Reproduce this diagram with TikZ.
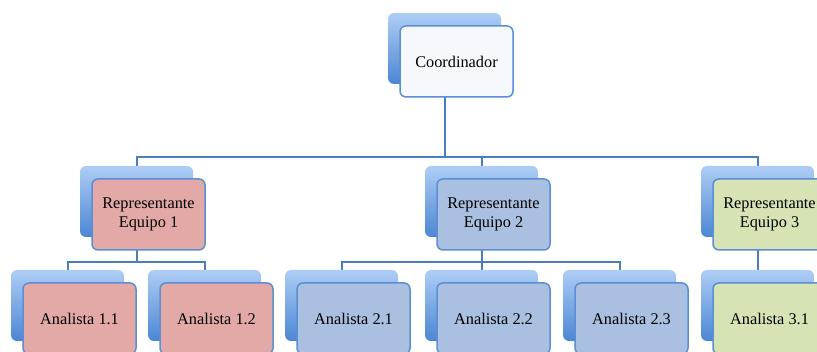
\documentclass[tikz,border=0pt]{standalone}
\usepackage{fontspec}
\setmainfont{Liberation Serif}
\usetikzlibrary{backgrounds}
\definecolor{linkblue}{HTML}{4A7EBB}
\definecolor{edgeblue}{HTML}{5B8ED4}
\definecolor{backtop}{HTML}{AECDF5}
\definecolor{backbot}{HTML}{4B86D4}
\definecolor{headfill}{HTML}{F5F8FC}
\definecolor{teamone}{HTML}{E2A9A7}
\definecolor{teamtwo}{HTML}{A9C0E0}
\definecolor{teamthree}{HTML}{D6E3B5}
\tikzset{
  card/.style={minimum width=113pt, minimum height=71pt, inner sep=0pt,
    rounded corners=6pt, align=center, font=\fontsize{16.3}{19.5}\selectfont},
  backcard/.style={card, top color=backtop, bottom color=backbot, draw=none},
  frontcard/.style={card, draw=edgeblue, line width=1.5pt, fill=#1},
  link/.style={draw=linkblue, line width=2pt}
}
\begin{document}
\begin{tikzpicture}[x=1pt, y=-1pt]
\useasboundingbox (0,0) rectangle (817,352);
\clip (0,0) rectangle (817,352);

% head of the chart
\node[backcard] (cb) at (444.5,48.5) {};
\node[frontcard=headfill] (c) at (456.5,61.5) {Coordinador};

% team representatives
\node[backcard] (r1b) at (136.5,201.5) {};
\node[frontcard=teamone] (r1) at (148.5,214.5) {Representante\\Equipo 1};
\node[backcard] (r2b) at (481.5,201.5) {};
\node[frontcard=teamtwo] (r2) at (493.5,214.5) {Representante\\Equipo 2};
\node[backcard] (r3b) at (757.5,201.5) {};
\node[frontcard=teamthree] (r3) at (769.5,214.5) {Representante\\Equipo 3};

% analysts
\node[backcard] (a11b) at (67.5,305.5) {};
\node[frontcard=teamone] (a11) at (79.5,318.5) {Analista 1.1};
\node[backcard] (a12b) at (204.5,305.5) {};
\node[frontcard=teamone] (a12) at (216.5,318.5) {Analista 1.2};
\node[backcard] (a21b) at (341.5,305.5) {};
\node[frontcard=teamtwo] (a21) at (353.5,318.5) {Analista 2.1};
\node[backcard] (a22b) at (481.5,305.5) {};
\node[frontcard=teamtwo] (a22) at (493.5,318.5) {Analista 2.2};
\node[backcard] (a23b) at (619.5,305.5) {};
\node[frontcard=teamtwo] (a23) at (631.5,318.5) {Analista 2.3};
\node[backcard] (a31b) at (757.5,305.5) {};
\node[frontcard=teamthree] (a31) at (769.5,318.5) {Analista 3.1};

% bus lines of the tree
\coordinate (bus0) at (0,157);
\coordinate (bus1) at (0,262);

\begin{pgfonlayer}{background}
  \draw[link] (cb.center) -- (cb |- bus0) -| (r1b.center);
  \draw[link] (cb |- bus0) -| (r2b.center);
  \draw[link] (cb |- bus0) -| (r3b.center);
  \draw[link] (r1b.center) -- (r1b |- bus1) -| (a11b.center);
  \draw[link] (r1b |- bus1) -| (a12b.center);
  \draw[link] (r2b.center) -- (r2b |- bus1) -| (a21b.center);
  \draw[link] (r2b |- bus1) -| (a22b.center);
  \draw[link] (r2b |- bus1) -| (a23b.center);
  \draw[link] (r3b.center) -- (a31b.center);
\end{pgfonlayer}
\end{tikzpicture}
\end{document}
